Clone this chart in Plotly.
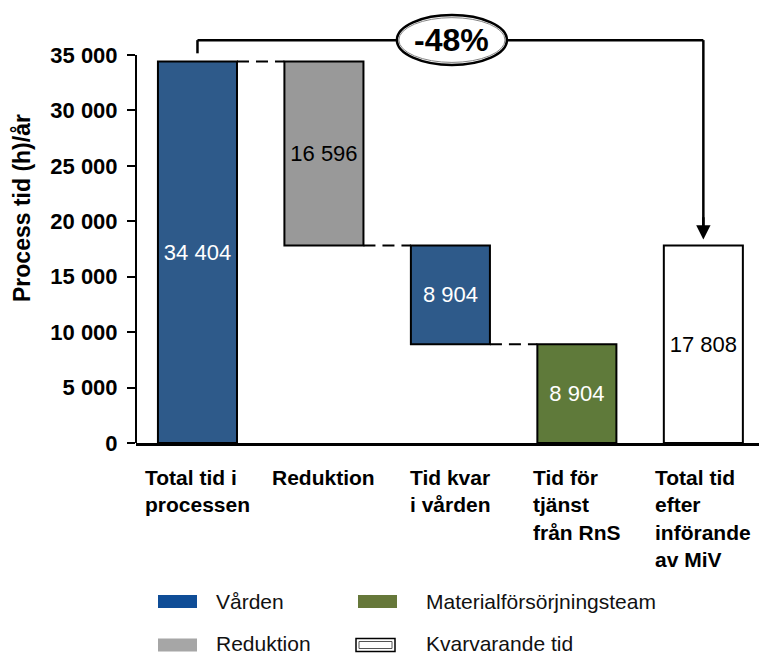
import plotly.graph_objects as go

# ---------------- data ----------------
categories = ["Total tid i<br>processen", "Reduktion", "Tid kvar<br>i vården",
              "Tid för<br>tjänst<br>från RnS", "Total tid<br>efter<br>införande<br>av MiV"]
total_time = 34404
reduction = 16596
remaining_care = 8904
rns_time = 8904
remaining_total = total_time - reduction  # 17 808

values = [total_time, reduction, remaining_care, rns_time, remaining_total]
bases = [0, total_time - reduction, remaining_total - remaining_care, 0, 0]
labels = ["34 404", "16 596", "8 904", "8 904", "17 808"]
tick_vals = [0, 5000, 10000, 15000, 20000, 25000, 30000, 35000]
tick_text = ["0", "5 000", "10 000", "15 000", "20 000", "25 000", "30 000", "35 000"]
legend_names = ["Vården", "Materialförsörjningsteam", "Reduktion", "Kvarvarande tid"]

# ---------------- style ----------------
FONT = "Arial, Liberation Sans, sans-serif"
bar_colors = ["#2E5A8A", "#999999", "#2E5A8A", "#5F7A3A", "#FFFFFF"]
text_colors = ["white", "black", "white", "white", "black"]
legend_colors = ["#0F4D97", "#66783A", "#A6A6A6", "#FFFFFF"]

W, H = 759, 654
ML, MR, MT, MB = 136, 0, 0, 211
YMAX = 39960
XR = [-0.486, 4.44]
pw, ph = W - ML - MR, H - MT - MB


def px2paper(px, py):
    return (px - ML) / pw, (H - MB - py) / ph


x_idx = list(range(len(values)))

fig = go.Figure()
fig.add_trace(go.Bar(
    x=x_idx, y=values, base=bases, width=0.625,
    marker=dict(color=bar_colors, line=dict(color="black", width=2)),
    text=labels, textposition="inside", insidetextanchor="middle",
    textangle=0, constraintext="none",
    textfont=dict(family=FONT, size=22, color=text_colors),
    showlegend=False, hoverinfo="skip",
))

shapes = []
# dashed connectors between bars
half = 0.625 / 2
tops = [values[i] + bases[i] for i in range(len(values))]
conn = [(0, 1, tops[0]), (1, 2, bases[1]), (2, 3, bases[2])]
for a, b, yv in conn:
    shapes.append(dict(type="line", xref="x", yref="y", x0=a + half, x1=b - half,
                       y0=yv, y1=yv, line=dict(color="black", width=2, dash="12px,7px")))

# y axis line (0 to 35000)
shapes.append(dict(type="line", xref="paper", yref="y", x0=0, x1=0, y0=0, y1=35000,
                   line=dict(color="black", width=2)))

# bracket
BRY = 36340
shapes.append(dict(type="line", xref="x", yref="y", x0=0, x1=0, y0=35150, y1=BRY,
                   line=dict(color="black", width=2.5)))
shapes.append(dict(type="line", xref="x", yref="y", x0=0, x1=4, y0=BRY, y1=BRY,
                   line=dict(color="black", width=2.5)))
shapes.append(dict(type="line", xref="x", yref="y", x0=4, x1=4, y0=BRY, y1=19200,
                   line=dict(color="black", width=2.5)))
# ellipse
shapes.append(dict(type="circle", xref="x", yref="y", x0=1.577, x1=2.447, y0=34100, y1=38600,
                   fillcolor="white", line=dict(color="black", width=2.5)))
shapes.append(dict(type="circle", xref="x", yref="y", x0=1.592, x1=2.432, y0=34330, y1=38370,
                   fillcolor="rgba(0,0,0,0)", line=dict(color="#666666", width=0.8)))

annotations = []
pct = round((remaining_total - total_time) / total_time * 100)
annotations.append(dict(x=2.01, y=BRY, xref="x", yref="y", text=f"<b>{pct}%</b>",
                        showarrow=False, font=dict(family=FONT, size=32, color="black"),
                        xanchor="center", yanchor="middle"))
# arrow head
annotations.append(dict(x=4, y=tops[4], xref="x", yref="y", ax=4, ay=20500,
                        axref="x", ayref="y", text="", showarrow=True,
                        arrowhead=2, arrowwidth=2.5, arrowsize=1.15, standoff=6,
                        arrowcolor="black"))

# category labels (left aligned lines, centered block)
for i, c in enumerate(categories):
    annotations.append(dict(x=i, y=0, xref="x", yref="paper", text=f"<b>{c}</b>",
                            showarrow=False, align="left", xanchor="center", yanchor="top",
                            yshift=-21, font=dict(family=FONT, size=21, color="black")))

# y title
tx, ty = px2paper(22, 208)
annotations.append(dict(x=tx, y=ty, xref="paper", yref="paper", text="<b>Process tid (h)/år</b>",
                        showarrow=False, textangle=-90, font=dict(family=FONT, size=23, color="black"),
                        xanchor="center", yanchor="middle"))

# legend
leg_box = [(158, 601.5), (358, 601.5), (158, 645), (356, 645)]
leg_text_x = [214, 424, 214, 424]
leg_text_y = [601.5, 601.5, 643, 643]
for (lx, ly), name, col, txp, typ in zip(leg_box, legend_names, legend_colors, leg_text_x, leg_text_y):
    x0, y0 = px2paper(lx, ly - 6.5)
    x1, y1 = px2paper(lx + 39, ly + 6.5)
    if col == "#FFFFFF":
        shapes.append(dict(type="rect", xref="paper", yref="paper", x0=x0, x1=x1, y0=y0, y1=y1,
                           fillcolor="white", line=dict(color="black", width=1.5)))
        xi0, yi0 = px2paper(lx + 3, ly - 3.5)
        xi1, yi1 = px2paper(lx + 36, ly + 3.5)
        shapes.append(dict(type="rect", xref="paper", yref="paper", x0=xi0, x1=xi1, y0=yi0, y1=yi1,
                           fillcolor="white", line=dict(color="#555555", width=1)))
    else:
        shapes.append(dict(type="rect", xref="paper", yref="paper", x0=x0, x1=x1, y0=y0, y1=y1,
                           fillcolor=col, line=dict(width=0)))
    ax_, ay_ = px2paper(txp, typ)
    annotations.append(dict(x=ax_, y=ay_, xref="paper", yref="paper", text=name, showarrow=False,
                            xanchor="left", yanchor="middle",
                            font=dict(family=FONT, size=21, color="#111111")))

fig.update_layout(
    width=W, height=H, margin=dict(l=ML, r=MR, t=MT, b=MB, pad=0),
    paper_bgcolor="white", plot_bgcolor="white",
    shapes=shapes, annotations=annotations, showlegend=False,
    xaxis=dict(range=XR, showticklabels=False, ticks="", showgrid=False, zeroline=False,
               showline=True, linecolor="black", linewidth=3, fixedrange=True),
    yaxis=dict(range=[0, YMAX], tickvals=tick_vals, ticktext=tick_text, ticks="outside",
               ticklen=8, tickwidth=2, tickcolor="black", showgrid=False, zeroline=False,
               showline=False, ticklabelstandoff=5,
               tickfont=dict(family=FONT, size=22, color="black", weight="bold"),
               fixedrange=True),
    font=dict(family=FONT),
)

fig.write_html("out.html")
